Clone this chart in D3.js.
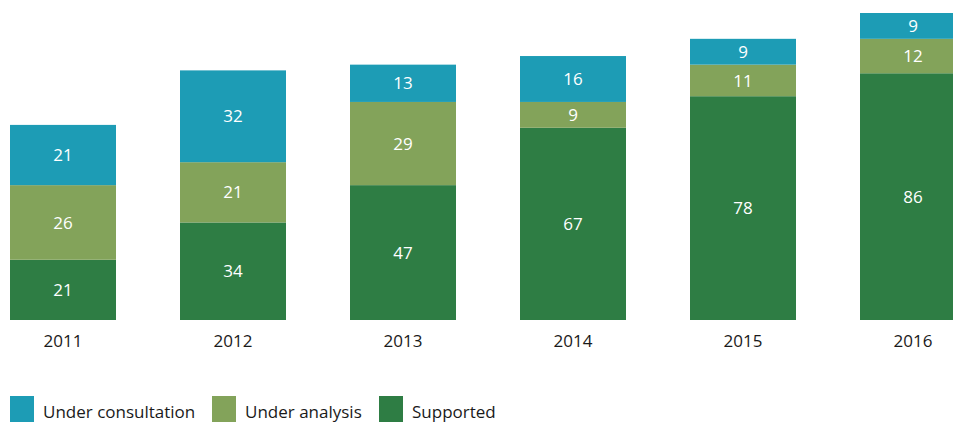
<!DOCTYPE html>
<html>
<head>
<meta charset="utf-8">
<script src="https://cdn.jsdelivr.net/npm/d3@7"></script>
<style>
  body { margin: 0; background: #fff; overflow: hidden; }
  text { font-family: "Open Sans", "Noto Sans", sans-serif; }
</style>
</head>
<body>
<div class="stack_chart"></div>
<script>
// D3 stacked bars
const W = 953, H = 423;

const years = ["2011", "2012", "2013", "2014", "2015", "2016"];
const supported = [21, 34, 47, 67, 78, 86];
const underAnalysis = [26, 21, 29, 9, 11, 12];
const underConsultation = [21, 32, 13, 16, 9, 9];

const seriesNames = ["Supported", "Under analysis", "Under consultation"];
const seriesColors = ["#2e7d44", "#83a35a", "#1d9cb5"];
const legendOrder = ["Under consultation", "Under analysis", "Supported"];

const rows = years.map((y, i) => ({
	year: y,
	"Supported": supported[i],
	"Under analysis": underAnalysis[i],
	"Under consultation": underConsultation[i]
}));

const svg = d3.select(".stack_chart")
	.append("svg")
	.attr("width", W)
	.attr("height", H);

const xScale = d3.scaleBand()
	.domain(years)
	.range([10, 966])
	.paddingInner(64 / 170)
	.paddingOuter(0);

const yScale = d3.scaleLinear()
	.domain([0, 107])
	.range([320, 13]);

const color = d3.scaleOrdinal().domain(seriesNames).range(seriesColors);

const stacked = d3.stack().keys(seriesNames)(rows);

const layers = svg.selectAll(".layer")
	.data(stacked).enter()
	.append("g")
	.attr("class", "layer")
	.attr("fill", d => color(d.key));

layers.selectAll("rect")
	.data(d => d).enter()
	.append("rect")
	.attr("x", d => xScale(d.data.year))
	.attr("y", d => yScale(d[1]))
	.attr("width", xScale.bandwidth())
	.attr("height", d => yScale(d[0]) - yScale(d[1]));

layers.selectAll(".val")
	.data(d => d).enter()
	.append("text")
	.attr("class", "val")
	.attr("x", d => xScale(d.data.year) + xScale.bandwidth() / 2)
	.attr("y", d => (yScale(d[0]) + yScale(d[1])) / 2)
	.attr("dy", "0.36em")
	.attr("text-anchor", "middle")
	.attr("fill", "#fff")
	.style("font-size", "17px")
	.text(d => d[1] - d[0]);

// year labels (axis without line / ticks)
const xAxis = d3.axisBottom(xScale).tickSize(0).tickPadding(15);
const gx = svg.append("g")
	.attr("transform", "translate(0, 320)")
	.call(xAxis);
gx.select(".domain").remove();
gx.selectAll("text")
	.attr("font-family", null)
	.style("font-size", "17px")
	.attr("fill", "#1a1a1a");

// legend
const legendX = [10, 212, 379];
const legend = svg.selectAll(".legend")
	.data(legendOrder).enter()
	.append("g")
	.attr("class", "legend")
	.attr("transform", (d, i) => "translate(" + legendX[i] + ", 396)");

legend.append("rect")
	.attr("width", 24)
	.attr("height", 26)
	.attr("fill", d => color(d));

legend.append("text")
	.attr("x", 33)
	.attr("y", 22)
	.attr("fill", "#1a1a1a")
	.style("font-size", "17px")
	.text(d => d);
</script>
</body>
</html>
